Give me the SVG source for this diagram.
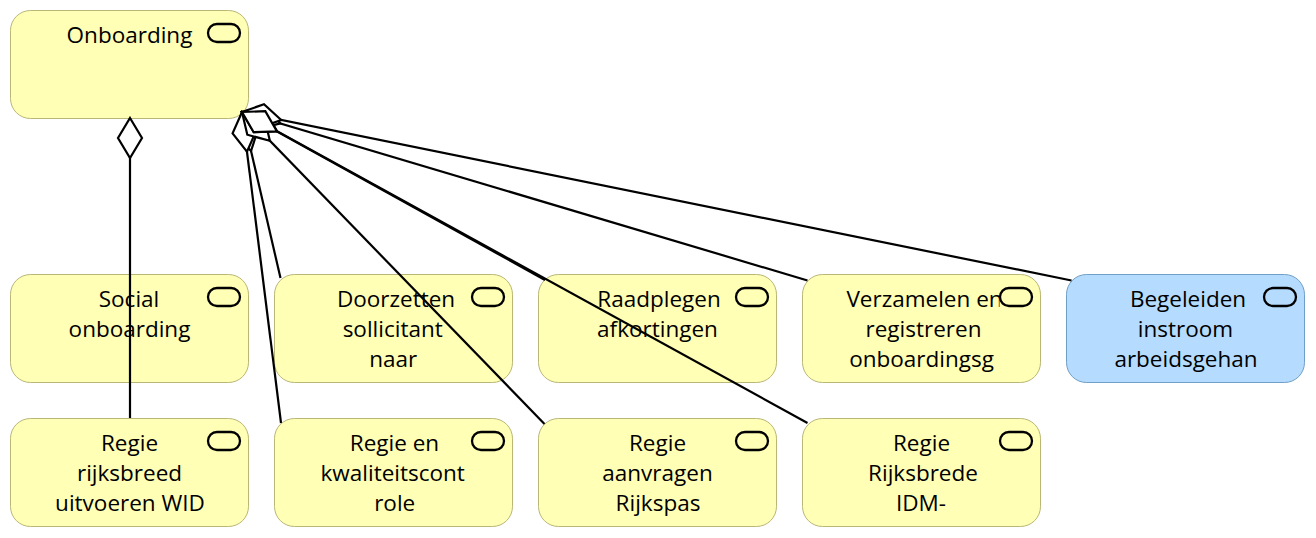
<svg xmlns="http://www.w3.org/2000/svg" width="1316" height="538" viewBox="0 0 1316 538">
<style>
.n{fill:#ffffb5;stroke:#b9b676;stroke-width:1}
.b{fill:#b5dcff;stroke:#6f9fc6;stroke-width:1}
.i{fill:none;stroke:#000;stroke-width:2.300}
text{font-family:"Open Sans","Noto Sans","Liberation Sans",sans-serif;font-size:22.500px;fill:#000;text-anchor:middle}
.c{fill:none;stroke:#000;stroke-width:2.200;marker-start:url(#d)}
</style>
<defs>
<marker id="d" markerUnits="userSpaceOnUse" viewBox="-2 -14 44 28" refX="0" refY="0" markerWidth="44" markerHeight="28" orient="auto">
<path d="M0 0L20 -12L40 0L20 12Z" fill="#fff" stroke="#000" stroke-width="2.200" stroke-linejoin="miter"/>
</marker>
<clipPath id="c1"><rect x="10" y="418" width="194" height="108"/></clipPath>
<clipPath id="c2"><rect x="802" y="274" width="197.500" height="108"/></clipPath>
</defs>
<g id="onboarding"><rect class="n" x="10.500" y="10.500" width="238" height="108" rx="20"/><rect class="i" x="208" y="24" width="32" height="18" rx="9"/><text x="129.500" y="43">Onboarding</text></g>
<g id="social"><rect class="n" x="10.500" y="274.500" width="238" height="108" rx="20"/><rect class="i" x="208" y="288" width="32" height="18" rx="9"/><text x="129" y="307">Social</text><text x="129.500" y="337">onboarding</text></g>
<g id="doorzetten"><rect class="n" x="274.500" y="274.500" width="238" height="108" rx="20"/><rect class="i" x="472" y="288" width="32" height="18" rx="9"/><text x="396" y="307">Doorzetten</text><text x="392.700" y="337">sollicitant</text><text x="393.300" y="367">naar</text></g>
<g id="raadplegen"><rect class="n" x="538.500" y="274.500" width="238" height="108" rx="20"/><rect class="i" x="736" y="288" width="32" height="18" rx="9"/><text x="659" y="307">Raadplegen</text><text x="657.500" y="337">afkortingen</text></g>
<g id="verzamelen"><rect class="n" x="802.500" y="274.500" width="238" height="108" rx="20"/><rect class="i" x="1000" y="288" width="32" height="18" rx="9"/><g clip-path="url(#c2)"><text x="924.500" y="307">Verzamelen en</text></g><text x="923.500" y="337">registreren</text><text x="921.500" y="367">onboardingsg</text></g>
<g id="begeleiden"><rect class="b" x="1066.500" y="274.500" width="238" height="108" rx="20"/><rect class="i" x="1264" y="288" width="32" height="18" rx="9"/><text x="1188" y="307">Begeleiden</text><text x="1185.500" y="337">instroom</text><text x="1186" y="367">arbeidsgehan</text></g>
<g id="regie-wid"><rect class="n" x="10.500" y="418.500" width="238" height="108" rx="20"/><rect class="i" x="208" y="432" width="32" height="18" rx="9"/><text x="129.500" y="451">Regie</text><text x="129.500" y="481">rijksbreed</text><g clip-path="url(#c1)"><text x="130" y="511">uitvoeren WID</text></g></g>
<g id="regie-kwaliteit"><rect class="n" x="274.500" y="418.500" width="238" height="108" rx="20"/><rect class="i" x="472" y="432" width="32" height="18" rx="9"/><text x="394.500" y="451">Regie en</text><text x="392.700" y="481">kwaliteitscont</text><text x="394.700" y="511">role</text></g>
<g id="regie-rijkspas"><rect class="n" x="538.500" y="418.500" width="238" height="108" rx="20"/><rect class="i" x="736" y="432" width="32" height="18" rx="9"/><text x="657.500" y="451">Regie</text><text x="657.500" y="481">aanvragen</text><text x="658" y="511">Rijkspas</text></g>
<g id="regie-idm"><rect class="n" x="802.500" y="418.500" width="238" height="108" rx="20"/><rect class="i" x="1000" y="432" width="32" height="18" rx="9"/><text x="921.500" y="451">Regie</text><text x="923" y="481">Rijksbrede</text><text x="921" y="511">IDM-</text></g>
<g id="connectors">
<path class="c" d="M130 118L130 418"/>
<path class="c" d="M242 112L280.500 278"/>
<path class="c" d="M242 112L281 423"/>
<path class="c" d="M242 112L544.500 424"/>
<path class="c" d="M242 112L807.500 423"/>
<path class="c" d="M242 112L807.500 280.500"/>
<path class="c" d="M242 112L1071.500 280.500"/>
<path class="c" d="M242 112L545 280"/>
</g>
</svg>
